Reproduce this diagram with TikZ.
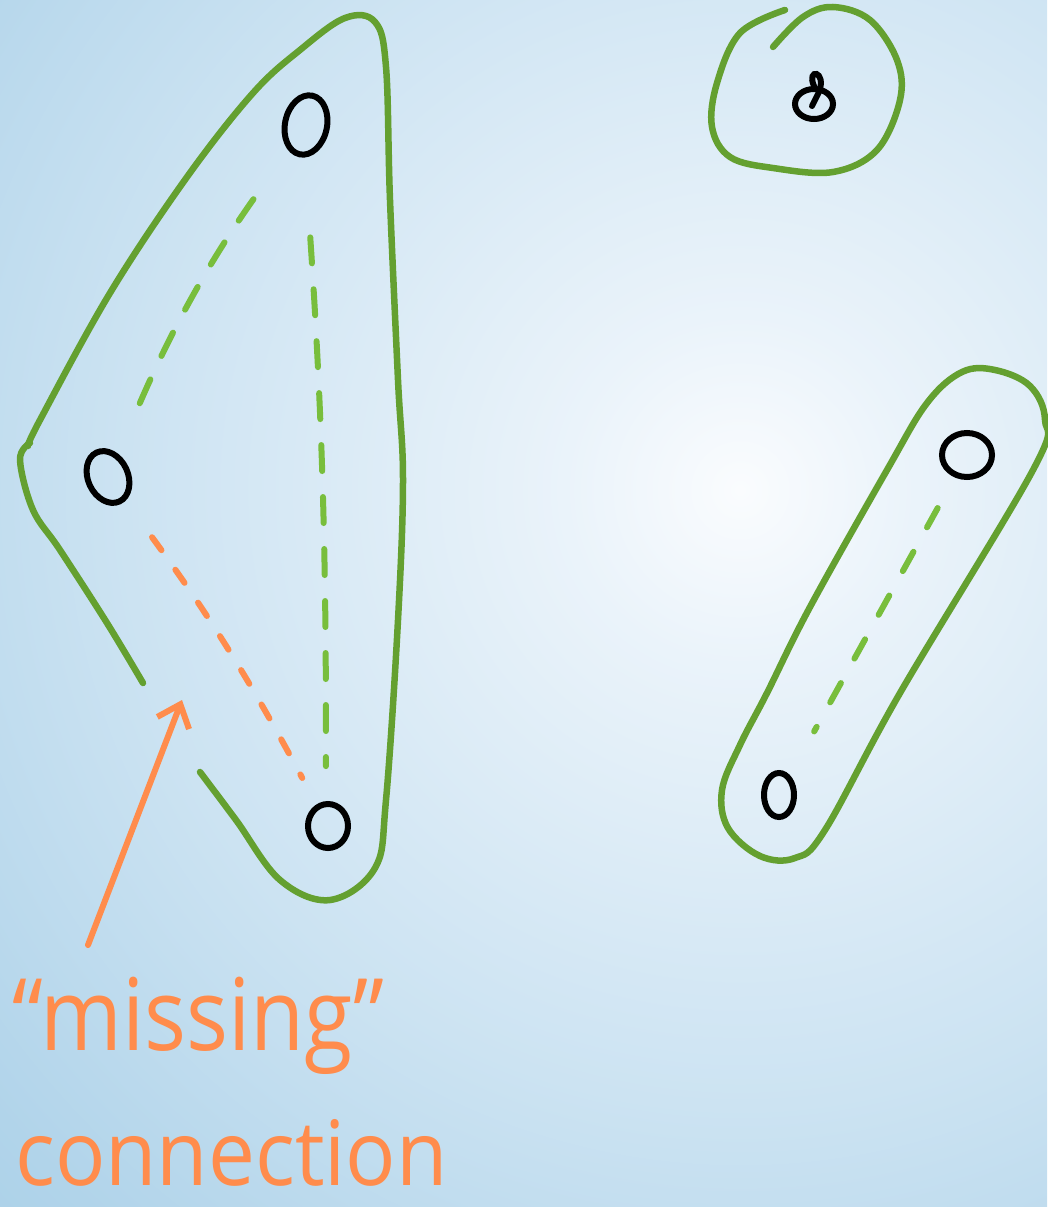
\documentclass[tikz,border=0pt]{standalone}
\usepackage{fontspec}
\setmainfont{Open Sans}
\usetikzlibrary{shapes.geometric,arrows.meta}
\definecolor{bgc0}{RGB}{250,252,254}
\definecolor{bgc1}{RGB}{234,243,250}
\definecolor{bgc2}{RGB}{204,227,242}
\definecolor{bgc3}{RGB}{177,212,234}
\definecolor{bgc4}{RGB}{150,198,227}
\definecolor{bgc5}{RGB}{141,192,223}
\definecolor{bgc6}{RGB}{133,187,220}
\definecolor{blobgreen}{RGB}{100,160,48}
\definecolor{dashgreen}{RGB}{120,190,60}
\definecolor{handorange}{RGB}{255,140,76}
\pgfdeclareradialshading{bgshade}{\pgfpoint{0bp}{0bp}}{color(0bp)=(bgc0); color(4bp)=(bgc1); color(14bp)=(bgc2); color(22bp)=(bgc3); color(33bp)=(bgc4); color(40bp)=(bgc5); color(50bp)=(bgc6)}
\tikzset{
  blobline/.style={draw=blobgreen, line width=6.5pt, line cap=round, line join=round},
  vertex/.style={ellipse, draw=black, line width=6pt, inner sep=0pt},
  gdash/.style={draw=dashgreen, line width=6pt, line cap=round, dash pattern=on 26pt off 26pt},
  odash/.style={draw=handorange, line width=6pt, line cap=round, dash pattern=on 16pt off 24pt},
  oline/.style={draw=handorange, line width=6pt, line cap=round, line join=round},
  handtext/.style={text=handorange, inner sep=0pt, anchor=base west}
}
\begin{document}
\begin{tikzpicture}[x=1pt,y=-1pt]
\useasboundingbox (0,0) rectangle (1047,1207);
\begin{scope}
\clip (0,0) rectangle (1047,1207);
\shade[shading=bgshade] (740,490) circle[radius=1100pt];
\end{scope}
% nodes
\node[vertex, minimum width=42pt, minimum height=60pt, rotate=-12] (A) at (306,125) {};
\node[vertex, minimum width=40pt, minimum height=54pt, rotate=25] (B) at (108,477) {};
\node[vertex, minimum width=40pt, minimum height=44pt] (C) at (328,826) {};
\node[vertex, minimum width=50pt, minimum height=44pt] (D) at (967,455) {};
\node[vertex, minimum width=30pt, minimum height=44pt] (E) at (779,795) {};
\node[vertex, minimum width=38pt, minimum height=30pt] (F) at (814,104) {};
\draw[line width=6pt, line cap=round] (F.north) .. controls (806,68) and (827,70) .. (819,92) -- (812,106);
% connectors
\draw[gdash, shorten <=60pt, shorten >=50pt] (A) to[bend right=6] (B);
\draw[gdash, shorten <=80pt, shorten >=35pt] (A.-80) to[bend left=2] (C.95);
\draw[odash, shorten <=45pt, shorten >=30pt] (B) to[bend left=4] (C);
\draw[gdash, dash pattern=on 22pt off 28pt, shorten <=35pt, shorten >=50pt] (D) -- (E);
% blobs
\draw[blobline] plot[smooth, tension=0.6] coordinates {(143,683) (107,623) (60,550) (33,510) (20,460) (30,443)};
\draw[blobline] plot[smooth, tension=0.6] coordinates {(28,446) (40,420) (110,293) (187,177) (253,93) (300,50) (345,18) (375,22) (386,67) (390,200) (398,380) (403,480) (398,620) (386,800) (375,868) (330,900) (280,880) (236,820) (200,772)};
\draw[blobline] plot[smooth, tension=0.6] coordinates {(785,10) (740,33) (717,83) (712,127) (730,157) (773,168) (833,172) (877,150) (900,100) (897,60) (870,20) (833,7) (803,17) (773,47)};
\draw[blobline] plot[smooth cycle, tension=0.6] coordinates {(927,403) (962,372) (995,370) (1030,386) (1045,420) (1033,470) (900,693) (825,830) (795,858) (760,856) (728,828) (722,790) (740,745) (767,693) (810,607) (887,470)};
% arrow and label
\coordinate (arrS) at (88,945);
\coordinate (arrT) at (182,700);
\draw[oline, -{Straight Barb[length=20pt,width=34pt]}] (arrS) -- (arrT);
\node[handtext, font=\fontsize{100}{100}\selectfont, xscale=0.88] (miss) at (12,1050) {“missing”};
\node[handtext, font=\fontsize{90}{90}\selectfont, xscale=0.93] (conn) at (15,1185) {connection};
\end{tikzpicture}
\end{document}
